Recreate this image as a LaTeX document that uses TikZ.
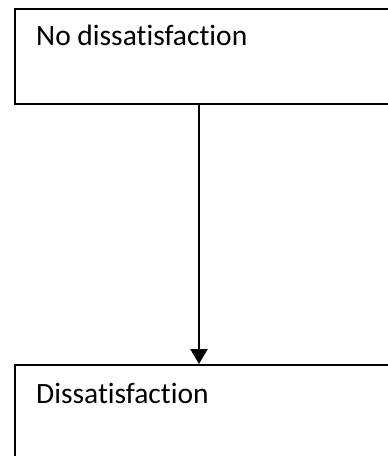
\documentclass[tikz,border=0pt]{standalone}
\usepackage{fontspec}
\setmainfont{Carlito}[Ligatures={NoCommon}]
\usetikzlibrary{arrows.meta}
\begin{document}
\begin{tikzpicture}[x=1pt,y=-1pt,
  box/.style={draw=black, line width=2.4pt, fill=white, minimum width=400pt, inner sep=0pt, anchor=north west},
  lbl/.style={anchor=base west, inner sep=0pt, font=\fontsize{29.5}{34}\selectfont},
  arr/.style={line width=2.4pt, -{Triangle[width=17pt,length=15pt]}}]
\useasboundingbox (0,0) rectangle (388,456);
\node[box, minimum height=95pt] (top) at (14,8) {};
\node[box, minimum height=110pt] (bot) at (14,364) {};
\node[lbl] (t1) at (36,45) {No dissatisfaction};
\node[lbl] (t2) at (36,403) {Dissatisfaction};
\draw[arr] ([xshift=185pt]top.south west) -- ([xshift=185pt]bot.north west);
\end{tikzpicture}
\end{document}
